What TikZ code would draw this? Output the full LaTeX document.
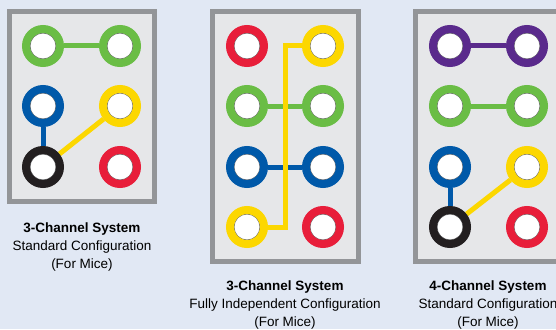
\documentclass[tikz,border=0pt]{standalone}
\usepackage{fontspec}
\setmainfont{Liberation Sans}
\usetikzlibrary{calc}
\definecolor{bgblue}{HTML}{E1E8F4}
\definecolor{panelfill}{HTML}{E6E7E9}
\definecolor{framegray}{HTML}{939598}
\definecolor{cgreen}{HTML}{6ABD45}
\definecolor{cblue}{HTML}{0059A9}
\definecolor{cyellow}{HTML}{FCD700}
\definecolor{cred}{HTML}{E81E3A}
\definecolor{cblack}{HTML}{231F20}
\definecolor{cpurple}{HTML}{5A2A8C}
\definecolor{innergray}{HTML}{6D6E70}
\pgfdeclarelayer{bglayer}
\pgfdeclarelayer{linelayer}
\pgfsetlayers{bglayer,linelayer,main}
\tikzset{
  ring/.style={circle, draw=#1, line width=8pt, fill=white, minimum size=34pt, inner sep=0pt,
    path picture={\draw[innergray, line width=0.8pt] (path picture bounding box.center) circle (13pt);}},
  link/.style={draw=#1, line width=5pt},
  panel/.style={draw=framegray, fill=panelfill, line width=5pt},
  caption/.style={align=center, font=\fontsize{13.5}{18}\selectfont, text=black, inner sep=0pt}
}
\begin{document}
\begin{tikzpicture}[x=1pt, y=-1pt]
\useasboundingbox (0,0) rectangle (556,329);
\clip (0,0) rectangle (556,329);
\begin{pgfonlayer}{bglayer}
\fill[bgblue] (0,0) rectangle (556,329);
\path[panel] (9.5,11.5) rectangle (154.5,201.5);
\path[panel] (212.5,11.5) rectangle (358.5,261.5);
\path[panel] (415.5,11.5) rectangle (562,261.5);
\end{pgfonlayer}

% Panel 1
\node[ring=cgreen] (a11) at (43,46) {};
\node[ring=cgreen] (a12) at (120,46) {};
\node[ring=cblue] (a21) at (43,106) {};
\node[ring=cyellow] (a22) at (120,106) {};
\node[ring=cblack] (a31) at (43,167) {};
\node[ring=cred] (a32) at (120,167) {};
\begin{pgfonlayer}{linelayer}
\draw[link=cgreen] (a11) -- (a12);
\draw[link=cblue] (a21) -- (a31);
\draw[link=cyellow] (a22) -- (a31);
\end{pgfonlayer}
\node[caption] (capa) at (82,247) {\textbf{3-Channel System}\\Standard Configuration\\(For Mice)};

% Panel 2
\node[ring=cred] (b11) at (247,46) {};
\node[ring=cyellow] (b12) at (323,46) {};
\node[ring=cgreen] (b21) at (247,106) {};
\node[ring=cgreen] (b22) at (323,106) {};
\node[ring=cblue] (b31) at (247,167) {};
\node[ring=cblue] (b32) at (323,167) {};
\node[ring=cyellow] (b41) at (247,227) {};
\node[ring=cred] (b42) at (323,227) {};
\coordinate (bmid) at ($(b41)!0.5!(b12)$);
\begin{pgfonlayer}{linelayer}
\draw[link=cgreen] (b21) -- (b22);
\draw[link=cblue] (b31) -- (b32);
\draw[link=cyellow] (b41.center) -| (bmid) |- (b12.center);
\end{pgfonlayer}
\node[caption] (capb) at (285,305) {\textbf{3-Channel System}\\Fully Independent Configuration\\(For Mice)};

% Panel 3
\node[ring=cpurple] (c11) at (450,46) {};
\node[ring=cpurple] (c12) at (527,46) {};
\node[ring=cgreen] (c21) at (450,106) {};
\node[ring=cgreen] (c22) at (527,106) {};
\node[ring=cblue] (c31) at (450,167) {};
\node[ring=cyellow] (c32) at (527,167) {};
\node[ring=cblack] (c41) at (450,227) {};
\node[ring=cred] (c42) at (527,227) {};
\begin{pgfonlayer}{linelayer}
\draw[link=cpurple] (c11) -- (c12);
\draw[link=cgreen] (c21) -- (c22);
\draw[link=cblue] (c31) -- (c41);
\draw[link=cyellow] (c32) -- (c41);
\end{pgfonlayer}
\node[caption] (capc) at (488,305) {\textbf{4-Channel System}\\Standard Configuration\\(For Mice)};
\end{tikzpicture}
\end{document}
